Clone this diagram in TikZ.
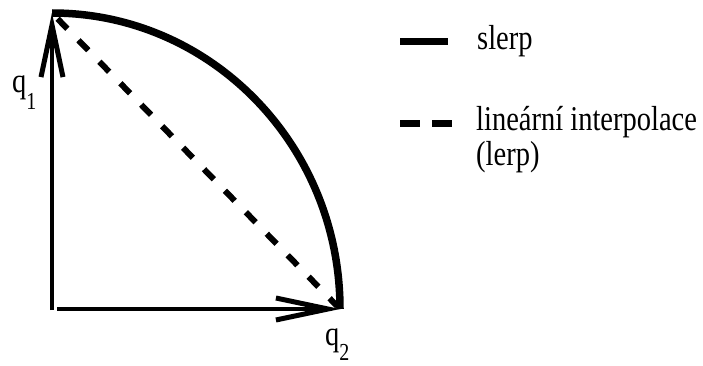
\documentclass[tikz,border=0pt]{standalone}
\usepackage{fontspec}
\setmainfont{Liberation Serif}
\usetikzlibrary{arrows.meta}

\begin{document}
\begin{tikzpicture}[x=1pt, y=1pt,
  vec/.style={line width=3.8pt,
              -{Straight Barb[length=52pt, width=22pt, line width=5pt]}},
  slerpline/.style={line width=7.5pt},
  lerpline/.style={line width=6pt, dash pattern=on 14pt off 16pt},
  keyline/.style={line width=7pt},
  keydash/.style={line width=7pt, dash pattern=on 20pt off 12pt},
  lbl/.style={font=\fontsize{28.5}{34}\selectfont, inner sep=0pt,
              anchor=base west, yscale=1.22, transform shape}
]
  \useasboundingbox (0,0) rectangle (703,365);
  \coordinate (O) at (52,55);
  \coordinate (q1) at (52,352);
  \coordinate (q2) at (340,56);

  % vectors
  \draw[vec] (O) -- (q1);
  \draw[vec] ([xshift=5pt]O |- q2) -- (q2);
  \node[lbl] (q1lbl) at (12,273) {q\raisebox{-14.5pt}{\fontsize{20}{20}\selectfont 1}};
  \node[lbl] (q2lbl) at (325,20) {q\raisebox{-12.5pt}{\fontsize{20}{20}\selectfont 2}};

  % interpolations
  \draw[slerpline] (q1) arc[start angle=90, end angle=0, x radius=288, y radius=296];
  \draw[lerpline, shorten <=8pt, shorten >=4pt] (q1) -- (q2);

  % legend
  \coordinate (sl) at (400,323);
  \coordinate (sr) at (448,323);
  \coordinate (dl) at (400,242);
  \coordinate (dr) at (452,242);
  \draw[keyline] (sl) -- (sr);
  \draw[keydash] (dl) -- (dr);
  \node[lbl] (slerp) at (477,316) {slerp};
  \node[lbl] (lerp) at (476,235) {lineární interpolace};
  \node[lbl] (lerp2) at (476,200) {(lerp)};
\end{tikzpicture}
\end{document}
